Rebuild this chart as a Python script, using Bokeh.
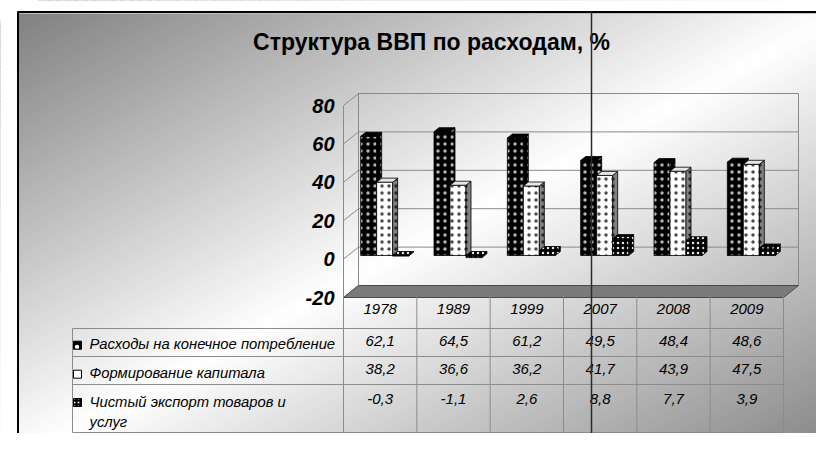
from bokeh.plotting import figure
from bokeh.models import Range1d
from bokeh.core.properties import value
from bokeh.embed import file_html
from bokeh.resources import INLINE

# ---------------- data ----------------
title_text = "Структура ВВП по расходам, %"
years = ["1978", "1989", "1999", "2007", "2008", "2009"]
consumption = [62.1, 64.5, 61.2, 49.5, 48.4, 48.6]
capital = [38.2, 36.6, 36.2, 41.7, 43.9, 47.5]
net_export = [-0.3, -1.1, 2.6, 8.8, 7.7, 3.9]
series_labels = ["Расходы на конечное потребление",
                 "Формирование капитала",
                 "Чистый экспорт товаров и\nуслуг"]
y_ticks = [-20, 0, 20, 40, 60, 80]
y_tick_labels = ["-20", "0", "20", "40", "60", "80"]

# ---------------- layout helpers (picture pixel -> data units) ----------------
W, H = 816, 433
SX = 440.0 / 6          # px per category
SY = 1.92               # px per percent
X0_PAGE = 343.0         # x of category 0 boundary (front plane)
Y0_PAGE = 258.6         # y of value 0 (front plane)

def X(px):
    return (px - X0_PAGE) / SX

def Y(py):
    return (Y0_PAGE - py) / SY

def dX(px):
    return px / SX

def dY(py):
    return py / SY

FONT = value("Liberation Sans")

p = figure(width=W, height=H,
           x_range=Range1d(X(0), X(W)),
           y_range=Range1d(Y(H), Y(0)),
           output_backend="svg", toolbar_location=None,
           x_axis_location=None, y_axis_location=None,
           min_border=0, border_fill_color="white",
           background_fill_color="white")
p.grid.visible = False
p.outline_line_color = None

# ---------------- background gradient (diagonal grey-white-grey) ----------------
FX0, FY0, FW, FH = 17.0, 11.0, 828.0, 449.0
N = 180
bxs, bys, bcols = [], [], []
for k in range(N):
    s1 = 2.0 * k / N
    s2 = 2.0 * (k + 1) / N + 0.004
    pts = [(FW * (s1 + 1), -FH), (FW * (s1 - 3), 3 * FH),
           (FW * (s2 - 3), 3 * FH), (FW * (s2 + 1), -FH)]
    bxs.append([X(FX0 + a) for a, b in pts])
    bys.append([Y(FY0 + b) for a, b in pts])
    t = (k + 0.5) / N
    g = int(round(128 + 127 * (1 - abs(2 * t - 1))))
    bcols.append("#%02x%02x%02x" % (g, g, g))
p.patches(bxs, bys, fill_color=bcols, line_color=None)

# white outside the frame (left and top strips)
p.quad(left=[X(-10)], right=[X(FX0)], bottom=[Y(480)], top=[Y(-10)], fill_color="white", line_color=None)
p.quad(left=[X(-10)], right=[X(860)], bottom=[Y(FY0)], top=[Y(-10)], fill_color="white", line_color=None)
# frame border
p.segment(x0=[X(17.5)], y0=[Y(11)], x1=[X(17.5)], y1=[Y(480)], line_color="black", line_width=2)
p.segment(x0=[X(17)], y0=[Y(11.5)], x1=[X(860)], y1=[Y(11.5)], line_color="black", line_width=2)
p.segment(x0=[X(19)], y0=[Y(13)], x1=[X(860)], y1=[Y(13)], line_color="#bdbdbd", line_width=1)

# ---------------- 3D walls ----------------
NCAT = len(years)
DXF, DYF = dX(15), dY(12)       # full depth offset
WALL = "#8a8a8a"
ymin, ymax = y_ticks[0], y_ticks[-1]
p.segment(x0=[DXF] * len(y_ticks), y0=[v + DYF for v in y_ticks],
          x1=[NCAT + DXF] * len(y_ticks), y1=[v + DYF for v in y_ticks],
          line_color=WALL, line_width=1)
p.segment(x0=[0] * len(y_ticks), y0=y_ticks,
          x1=[DXF] * len(y_ticks), y1=[v + DYF for v in y_ticks],
          line_color=WALL, line_width=1)
p.segment(x0=[0, DXF, NCAT + DXF], y0=[ymin, ymin + DYF, ymin + DYF],
          x1=[0, DXF, NCAT + DXF], y1=[ymax, ymax + DYF, ymax + DYF],
          line_color=WALL, line_width=1)
p.patches([[0, NCAT, NCAT + DXF, DXF]], [[ymin, ymin, ymin + DYF, ymin + DYF]],
          fill_color="#7a7a7a", line_color="#4a4a4a", line_width=1)

# ---------------- 3D bars ----------------
BW = dX(16)
BDX, BDY = dX(5), dY(4)
SHX, SHY = 0.3 * DXF, 0.3 * DYF
series_vals = [consumption, capital, net_export]
styles = [
    dict(front="black", fh="white", fs=7, ha=0.7, side="black", sh="white", top="black", th=None, ms=9),
    dict(front="white", fh="black", fs=7, ha=0.7, side="#808080", sh="black", top="#e6e6e6", th=None, ms=40),
    dict(front="black", fh="white", fs=5, ha=0.9, side="black", sh="white", top="black", th="white", ms=4),
]
for s, vals in enumerate(series_vals):
    st = styles[s]
    left = [i + 0.5 - 1.5 * BW + s * BW + SHX for i in range(NCAT)]
    right = [l + BW for l in left]
    bottom = [min(0, v) + SHY for v in vals]
    top = [max(0, v) + SHY for v in vals]
    sxs = [[r, r + BDX, r + BDX, r] for r in right]
    sys_ = [[b, b + BDY, t + BDY, t] for b, t in zip(bottom, top)]
    txs = [[l, r, r + BDX, l + BDX] for l, r in zip(left, right)]
    tys = [[t, t, t + BDY, t + BDY] for t in top]
    p.quad(left=left, right=right, bottom=bottom, top=top,
           fill_color=st["front"], line_color="black", line_width=0.8,
           hatch_pattern="dot", hatch_color=st["fh"], hatch_scale=st["fs"],
           hatch_weight=0.3, hatch_alpha=st["ha"])
    p.patches(sxs, sys_, fill_color=st["side"], line_color="black", line_width=0.8,
              hatch_pattern="dot", hatch_color=st["sh"], hatch_scale=st["fs"],
              hatch_weight=0.3, hatch_alpha=st["ha"])
    if st["th"]:
        p.patches(txs, tys, fill_color=st["top"], line_color="black", line_width=0.8,
                  hatch_pattern="dot", hatch_color=st["th"], hatch_scale=st["fs"],
                  hatch_weight=0.3, hatch_alpha=st["ha"])
    else:
        p.patches(txs, tys, fill_color=st["top"], line_color="black", line_width=0.8)

# ---------------- y tick labels ----------------
p.text(x=[X(334)] * len(y_ticks), y=y_ticks, text=y_tick_labels,
       text_align="right", text_baseline="middle", text_font=FONT,
       text_font_style="bold italic", text_font_size="20px", text_color="black")

# ---------------- title ----------------
p.text(x=[X(431)], y=[Y(41)], text=[title_text], text_align="center",
       text_baseline="middle", text_font=FONT, text_font_style="bold",
       text_font_size="23px", text_color="black")

# ---------------- data table ----------------
TL = "#8c8c8c"
row_lines = [328, 356, 384, 432]
p.segment(x0=[X(72)] * len(row_lines), y0=[Y(r) for r in row_lines],
          x1=[NCAT] * len(row_lines), y1=[Y(r) for r in row_lines],
          line_color=TL, line_width=1)
p.segment(x0=list(range(NCAT + 1)), y0=[Y(296)] * (NCAT + 1),
          x1=list(range(NCAT + 1)), y1=[Y(432)] * (NCAT + 1),
          line_color=TL, line_width=1)
p.segment(x0=[X(72)], y0=[Y(328)], x1=[X(72)], y1=[Y(432)], line_color=TL, line_width=1)

cx = [i + 0.5 for i in range(NCAT)]
p.text(x=cx, y=[Y(308.5)] * NCAT, text=years, text_align="center",
       text_baseline="middle", text_font=FONT, text_font_style="italic",
       text_font_size="15px", text_color="black")
value_centers = [340.5, 368.5, 398.5]
for vals, yc in zip(series_vals, value_centers):
    txt = [("%.1f" % v).replace(".", ",") for v in vals]
    p.text(x=cx, y=[Y(yc)] * NCAT, text=txt, text_align="center",
           text_baseline="middle", text_font=FONT, text_font_style="italic",
           text_font_size="15px", text_color="black")

label_centers = [343, 372, 401]
for lab, yc in zip(series_labels, label_centers):
    lines = lab.split("\n")
    p.text(x=[X(89)] * len(lines), y=[Y(yc + 20.5 * j) for j in range(len(lines))],
           text=lines, text_align="left", text_baseline="middle", text_font=FONT,
           text_font_style="italic", text_font_size="14.8px", text_color="black")

marker_y = [344.7, 373.7, 402]
for s, my in enumerate(marker_y):
    st = styles[s]
    p.rect(x=[X(77)], y=[Y(my)], width=8, height=8, width_units="screen",
           height_units="screen", fill_color=st["front"], line_color="black", line_width=1,
           hatch_pattern="dot", hatch_color=st["fh"], hatch_scale=st["ms"], hatch_weight=0.5)

# ---------------- stray vertical guide line ----------------
p.segment(x0=[X(591)], y0=[Y(11)], x1=[X(591)], y1=[Y(480)], line_color="#2b2b2b", line_width=1.5)

open("out.html", "w").write(file_html(p, INLINE))
